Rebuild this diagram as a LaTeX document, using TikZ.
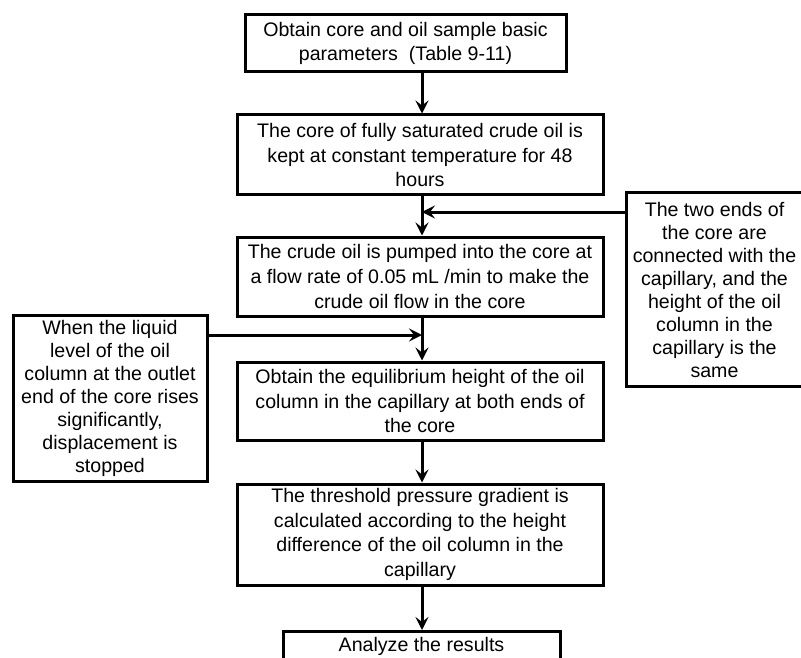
\documentclass[tikz,border=0pt]{standalone}
\usepackage{fontspec}
\setmainfont{Liberation Sans}
\usetikzlibrary{arrows.meta}

\begin{document}
\begin{tikzpicture}[x=1pt, y=-1pt,
    box/.style={draw, line width=3pt, align=center, inner sep=0pt,
        font=\fontsize{19.6}{24.8}\selectfont},
    side/.style={box, font=\fontsize{19.6}{23}\selectfont},
    arr/.style={line width=3pt, -{Stealth[length=13pt, width=13pt, inset=5pt]}}]
    \useasboundingbox (0,0) rectangle (801,658);
    \clip (0,0) rectangle (801,658);

    \node[box, minimum width=321, minimum height=57] (obtain) at (405.5,43.5)
        {Obtain core and oil sample basic\\ parameters\ \ (Table 9-11)};
    \node[box, minimum width=366, minimum height=80] (keep) at (420,155)
        {The core of fully saturated crude oil is\\ kept at constant temperature for 48\\ hours};
    \node[box, minimum width=366, minimum height=79] (pump) at (420,276.5)
        {The crude oil is pumped into the core at\\ a flow rate of 0.05 mL /min to make the\\ crude oil flow in the core};
    \node[box, minimum width=366, minimum height=78] (height) at (420,401)
        {Obtain the equilibrium height of the oil\\ column in the capillary at both ends of\\ the core};
    \node[box, minimum width=366, minimum height=101] (grad) at (420,534.5)
        {The threshold pressure gradient is\\ calculated according to the height\\ difference of the oil column in the\\ capillary};
    \node[box, minimum width=277, inner ysep=6pt, anchor=north] (result) at (421.5,630)
        {Analyze the results};

    \node[side, minimum width=194, minimum height=166] (stop) at (110,398)
        {When the liquid\\ level of the oil\\ column at the outlet\\ end of the core rises\\ significantly,\\ displacement is\\ stopped};
    \node[side, minimum width=177, minimum height=193] (ends) at (714.5,289.5)
        {The two ends of\\ the core are\\ connected with the\\ capillary, and the\\ height of the oil\\ column in the\\ capillary is the\\ same};

    \coordinate (spine) at (422,0);
    \coordinate (in1) at (422,212);
    \coordinate (in2) at (422,335);

    \draw[arr] (obtain.south -| spine) -- (keep.north -| spine);
    \draw[arr] (keep.south -| spine) -- (pump.north -| spine);
    \draw[arr] (pump.south -| spine) -- (height.north -| spine);
    \draw[arr] (height.south -| spine) -- (grad.north -| spine);
    \draw[arr] (grad.south -| spine) -- (result.north -| spine);

    \draw[arr] (in1 -| ends.west) -- (in1);
    \draw[arr] (in2 -| stop.east) -- (in2);
\end{tikzpicture}
\end{document}
